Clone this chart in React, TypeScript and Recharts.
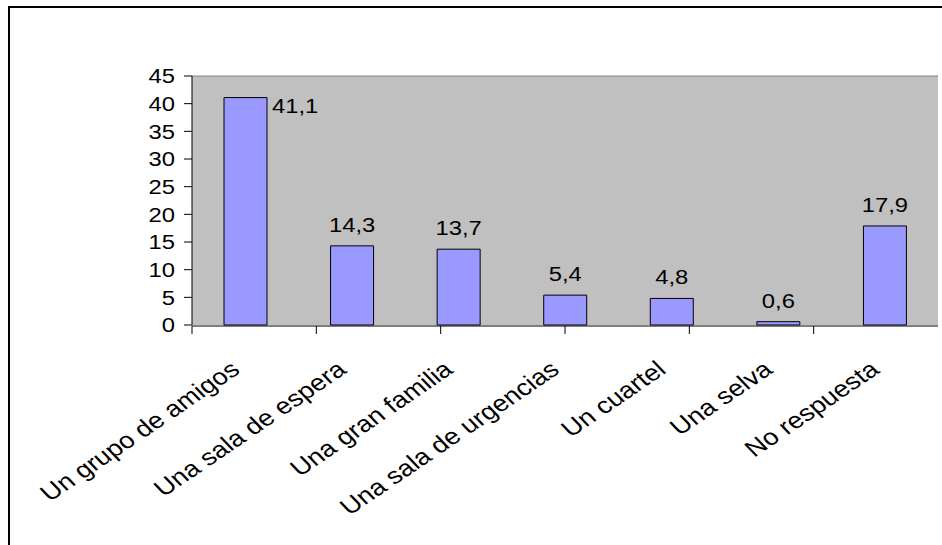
import { BarChart, Bar, XAxis, YAxis, CartesianGrid, LabelList, ReferenceLine } from 'recharts'

const categories = [
  'Un grupo de amigos',
  'Una sala de espera',
  'Una gran familia',
  'Una sala de urgencias',
  'Un cuartel',
  'Una selva',
  'No respuesta',
]
const percentages = [41.1, 14.3, 13.7, 5.4, 4.8, 0.6, 17.9]
const yTicks = [0, 5, 10, 15, 20, 25, 30, 35, 40, 45]
const boundaryTicks = [0, 1, 2, 3, 4, 5, 6, 7]

const data = categories.map((name, i) => ({ name, value: percentages[i] }))

const FONT = '"Liberation Sans", Arial, sans-serif'
// text in this chart is a little wider than a plain Arial face
const STRETCH = 1.19

const fmt = (v: number) => v.toFixed(1).replace('.', ',')

const renderValueTick = (props: any) => {
  const { x, y, payload } = props
  return (
    <text
      transform={`translate(${x}, ${y}) scale(${STRETCH}, 1)`}
      textAnchor="end"
      dy="0.36em"
      fontSize={20}
      fontFamily={FONT}
      fill="#000"
    >
      {payload.value}
    </text>
  )
}

const CategoryTick = (props: any) => {
  const { x, y, payload } = props
  return (
    <text
      transform={`translate(${x - 4}, ${y + 47}) scale(${STRETCH}, 1) rotate(-39)`}
      textAnchor="end"
      fontSize={23}
      fontFamily={FONT}
      fill="#000"
    >
      {payload.value}
    </text>
  )
}

const BarValue = (props: any) => {
  const { x, y, width, value, index } = props
  // the tallest bar carries its figure beside the top instead of above it
  if (index === 0) {
    return (
      <text
        transform={`translate(${x + width + 5}, ${y + 15}) scale(${STRETCH}, 1)`}
        fontSize={20}
        fontFamily={FONT}
        fill="#000"
      >
        {fmt(value)}
      </text>
    )
  }
  return (
    <text
      transform={`translate(${x + width / 2}, ${y - 14}) scale(${STRETCH}, 1)`}
      textAnchor="middle"
      fontSize={20}
      fontFamily={FONT}
      fill="#000"
    >
      {fmt(value)}
    </text>
  )
}

export default function App() {
  return (
    <div style={{ position: 'fixed', left: 0, top: 0, width: 942, height: 545, background: '#fff', overflow: 'hidden' }}>
      <div
        style={{
          position: 'absolute',
          left: 8,
          top: 6,
          width: 1000,
          height: 600,
          borderLeft: '2px solid #000',
          borderTop: '2px solid #000',
        }}
      />
      <div style={{ position: 'absolute', left: 0, top: 0 }}>
        <BarChart
          width={942}
          height={545}
          data={data}
          margin={{ top: 76, right: 4, bottom: 218, left: 142 }}
        >
          <CartesianGrid fill="#C0C0C0" horizontal={false} vertical={false} />
          <XAxis
            xAxisId="edges"
            type="number"
            domain={[0, 7]}
            allowDataOverflow
            ticks={boundaryTicks}
            tickSize={8}
            tickFormatter={() => ''}
            height={1}
            stroke="#000"
          />
          <XAxis
            dataKey="name"
            height={1}
            interval={0}
            axisLine={false}
            tickLine={false}
            tickSize={0}
            tickMargin={0}
            tick={<CategoryTick />}
          />
          <YAxis
            domain={[0, 45]}
            ticks={yTicks}
            interval={0}
            width={50}
            tickSize={8}
            tickMargin={9}
            stroke="#000"
            tick={renderValueTick}
          />
          <ReferenceLine y={45} stroke="#808080" />
          <ReferenceLine xAxisId="edges" x={7} stroke="#808080" />
          <Bar dataKey="value" fill="#9999FF" stroke="#000" strokeWidth={1} barSize={43} isAnimationActive={false}>
            <LabelList dataKey="value" content={<BarValue />} />
          </Bar>
        </BarChart>
      </div>
    </div>
  )
}
